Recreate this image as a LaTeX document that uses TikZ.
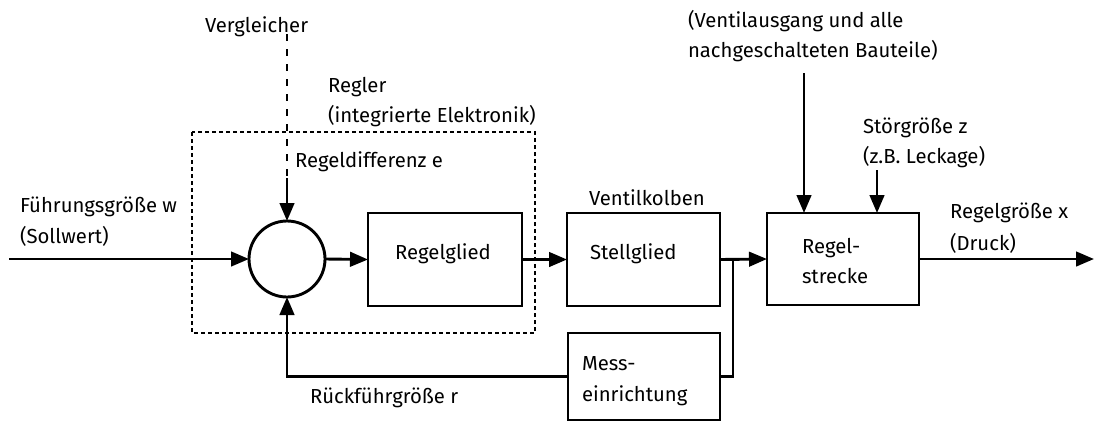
\documentclass[tikz,border=0pt]{standalone}
\usepackage{fontspec}
\setmainfont{Fira Sans}
\usetikzlibrary{arrows.meta}
\begin{document}
\begin{tikzpicture}[x=1pt,y=-1pt,
  line width=2.9pt,
  font=\fontsize{20.3}{30}\selectfont,
  arr/.style={-{Triangle[length=18pt,width=14.5pt]}},
  blk/.style={draw,rectangle,inner sep=0pt,outer sep=0pt},
  lbl/.style={anchor=base west,inner sep=0pt,outer sep=0pt},
  clbl/.style={anchor=base,inner sep=0pt,outer sep=0pt}]
\useasboundingbox (0,0) rectangle (1095,424);
% Regler boundary
\draw[line width=1.4pt,dash pattern=on 4pt off 3pt] (192,132) rectangle (535,333);
% blocks
\node[blk,circle,minimum size=76pt] (cmp) at (287,259) {};
\node[blk,minimum width=154pt,minimum height=93pt] (rg) at (445,259.5) {};
\node[blk,minimum width=153pt,minimum height=93pt] (sg) at (643.5,259.5) {};
\node[blk,minimum width=152pt,minimum height=92pt] (rs) at (843,259) {};
\node[blk,minimum width=152pt,minimum height=87pt] (me) at (644,376.5) {};
% coordinates
\coordinate (in) at (9,259);
\coordinate (out) at (1094,259);
\coordinate (br) at (733,259);
\coordinate (vg) at (287,34);
\coordinate (vgs) at (287,178);
\coordinate (va) at (804,73);
\coordinate (sz) at (877,170);
% connectors
\draw[arr] (in) -- (cmp.west);
\draw[arr] (cmp.east) -- (rg.west);
\draw[arr] (rg.east) -- (sg.west);
\draw[arr] (sg.east) -- (rs.west);
\draw (br) |- (me.east);
\draw[arr] (me.west) -| (cmp.south);
\draw[arr] (rs.east) -- (out);
\draw[dash pattern=on 7pt off 8pt] (vg) -- (vgs);
\draw[arr] (vgs) -- (cmp.north);
\draw[arr] (va) -- (va |- rs.north);
\draw[arr] (sz) -- (sz |- rs.north);
% labels
\node[lbl] (t1) at (205,32) {Vergleicher};
\node[lbl] (t2) at (328,92) {Regler};
\node[lbl] (t3) at (328,122) {(integrierte Elektronik)};
\node[lbl] (t4) at (295,167) {Regeldifferenz e};
\node[lbl] (t5) at (20,212) {Führungsgröße w};
\node[lbl] (t6) at (20,243) {(Sollwert)};
\node[clbl] (t7) at (443,259) {Regelglied};
\node[lbl] (t8) at (590,259) {Stellglied};
\node[lbl] (t9) at (589,205) {Ventilkolben};
\node[lbl] (t10) at (582,370) {Mess-};
\node[lbl] (t11) at (582,401) {einrichtung};
\node[lbl] (t12) at (310,403) {Rückführgröße r};
\node[lbl] (t13) at (802,253) {Regel-};
\node[lbl] (t14) at (802,283) {strecke};
\node[lbl] (t15) at (950,218) {Regelgröße x};
\node[lbl] (t16) at (950,250) {(Druck)};
\node[lbl] (t17) at (863,133) {Störgröße z};
\node[lbl] (t18) at (863,163) {(z.B. Leckage)};
\node[lbl] (t19) at (688,27) {(Ventilausgang und alle};
\node[lbl] (t20) at (688,57) {nachgeschalteten Bauteile)};
\end{tikzpicture}
\end{document}
